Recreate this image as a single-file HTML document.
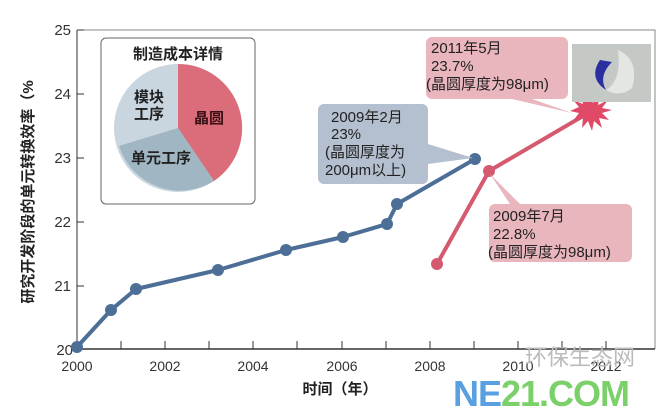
<!DOCTYPE html>
<html><head><meta charset="utf-8"><style>
body{margin:0;background:#fff;width:671px;height:415px;overflow:hidden}
text{font-family:"Liberation Sans","Noto Sans CJK SC",sans-serif}
</style></head><body>
<svg width="671" height="415" viewBox="0 0 671 415">
<rect width="671" height="415" fill="#fff"/>
<polyline points="77,30 655,30 655,349" fill="none" stroke="#888" stroke-width="1"/>
<line x1="77" y1="30" x2="77" y2="349" stroke="#555" stroke-width="1.2"/>
<line x1="77" y1="349" x2="655" y2="349" stroke="#333" stroke-width="1.5"/>
<g stroke="#333" stroke-width="1">
<line x1="77" y1="30" x2="84" y2="30"/><line x1="77" y1="94" x2="84" y2="94"/><line x1="77" y1="158" x2="84" y2="158"/><line x1="77" y1="222" x2="84" y2="222"/><line x1="77" y1="286" x2="84" y2="286"/>
<line x1="121" y1="349" x2="121" y2="341"/><line x1="165" y1="349" x2="165" y2="341"/><line x1="209" y1="349" x2="209" y2="341"/><line x1="253" y1="349" x2="253" y2="341"/><line x1="297" y1="349" x2="297" y2="341"/><line x1="342" y1="349" x2="342" y2="341"/><line x1="386" y1="349" x2="386" y2="341"/><line x1="430" y1="349" x2="430" y2="341"/><line x1="474" y1="349" x2="474" y2="341"/><line x1="518" y1="349" x2="518" y2="341"/><line x1="562" y1="349" x2="562" y2="341"/><line x1="606" y1="349" x2="606" y2="341"/>
</g>
<g font-size="15" fill="#333" text-anchor="end">
<text x="71" y="35">25</text><text x="71" y="99">24</text><text x="71" y="163">23</text><text x="71" y="227">22</text><text x="71" y="291">21</text><text x="73" y="355">20</text>
</g>
<g font-size="14" fill="#333" text-anchor="middle">
<text x="77" y="371">2000</text><text x="165" y="371">2002</text><text x="253" y="371">2004</text><text x="342" y="371">2006</text><text x="430" y="371">2008</text><text x="518" y="371">2010</text><text x="606" y="371">2012</text>
</g>
<text x="340" y="394" font-size="15" fill="#222" text-anchor="middle" font-weight="bold">时间（年）</text>
<text transform="translate(33,192) rotate(-90)" font-size="15" fill="#222" text-anchor="middle" font-weight="bold">研究开发阶段的单元转换效率（%</text>
<rect x="101" y="38" width="154" height="166" rx="5" fill="#fff" stroke="#666"/>
<text x="178" y="59" font-size="15" fill="#222" text-anchor="middle" font-weight="bold">制造成本详情</text>
<circle cx="178" cy="128" r="64" fill="#c9d6df"/>
<path d="M178,128 L178,64 A64,64 0 0 1 214,181 Z" fill="#db6c7a"/>
<path d="M178,128 L214,181 A64,64 0 0 1 119,146 Z" fill="#a1b6c3"/>
<text x="149" y="102" font-size="15" fill="#222" text-anchor="middle" font-weight="bold">模块</text>
<text x="149" y="119" font-size="15" fill="#222" text-anchor="middle" font-weight="bold">工序</text>
<text x="209" y="123" font-size="15" fill="#3a1015" text-anchor="middle" font-weight="bold">晶圆</text>
<text x="161" y="163" font-size="15" fill="#222" text-anchor="middle" font-weight="bold">单元工序</text>
<polyline points="77,347 111,310 136,289 218,270 286,250 343,237 387,224 397,204 475,159" fill="none" stroke="#4d6e96" stroke-width="4" stroke-linejoin="round"/>
<g fill="#4d6e96">
<circle cx="77" cy="347" r="6"/><circle cx="111" cy="310" r="6"/><circle cx="136" cy="289" r="6"/><circle cx="218" cy="270" r="6"/><circle cx="286" cy="250" r="6"/><circle cx="343" cy="237" r="6"/><circle cx="387" cy="224" r="6"/><circle cx="397" cy="204" r="6"/><circle cx="475" cy="159" r="6"/>
</g>
<polyline points="437,264 489,171 590,112" fill="none" stroke="#d55a6f" stroke-width="4" stroke-linejoin="round"/>
<circle cx="437" cy="264" r="6" fill="#d55a6f"/><circle cx="489" cy="171" r="6" fill="#d55a6f"/>
<polygon fill="#e04a66" points="590,93 593,103 600,95 598,105 608,100 602,108 612,110 602,113 609,120 599,118 602,128 594,121 592,131 588,121 582,128 583,118 573,121 579,113 570,111 579,107 573,100 583,104 581,94 587,102"/>
<rect x="572" y="44" width="79" height="58" fill="#c4c9c6"/>
<path d="M618,50 Q640,60 632,88 Q620,98 606,90 Q622,80 618,50 Z" fill="#e4e6e4"/>
<path d="M600,60 Q588,78 606,90 Q598,76 612,62 Z" fill="#2a2fa0"/>
<path d="M324,104 h98 a6,6 0 0 1 6,6 v34 l45,14 l-45,6 v14 a6,6 0 0 1 -6,6 h-98 a6,6 0 0 1 -6,-6 v-68 a6,6 0 0 1 6,-6 Z" fill="#b4c0d0"/>
<g font-size="15" fill="#222"><text x="331" y="122">2009年2月</text><text x="331" y="139">23%</text><text x="325" y="157">(晶圆厚度为</text><text x="325" y="175">200μm以上)</text></g>
<path d="M432,37 h130 a6,6 0 0 1 6,6 v50 a6,6 0 0 1 -6,6 h-30 l40,14 l-60,-14 h-80 a6,6 0 0 1 -6,-6 v-50 a6,6 0 0 1 6,-6 Z" fill="#eab6bd"/>
<g font-size="15" fill="#222"><text x="431" y="53">2011年5月</text><text x="431" y="71">23.7%</text><text x="426" y="89">(晶圆厚度为98μm)</text></g>
<path d="M495,204 h131 a6,6 0 0 1 6,6 v46 a6,6 0 0 1 -6,6 h-131 a6,6 0 0 1 -6,-6 v-46 a6,6 0 0 1 6,-6 h15 l-20,-30 l30,30 Z" fill="#eab6bd"/>
<g font-size="15" fill="#222"><text x="493" y="221">2009年7月</text><text x="493" y="239">22.8%</text><text x="488" y="257">(晶圆厚度为98μm)</text></g>
<text x="525" y="365" font-size="22" fill="#bbb" font-family="Liberation Serif,'Noto Serif CJK SC',serif">环保生态网</text>
<text x="453" y="406" font-size="36" font-weight="bold" fill="#5aa0e0" letter-spacing="-1">NE<tspan fill="#7bd06a">21.COM</tspan></text>
</svg>
</body></html>
